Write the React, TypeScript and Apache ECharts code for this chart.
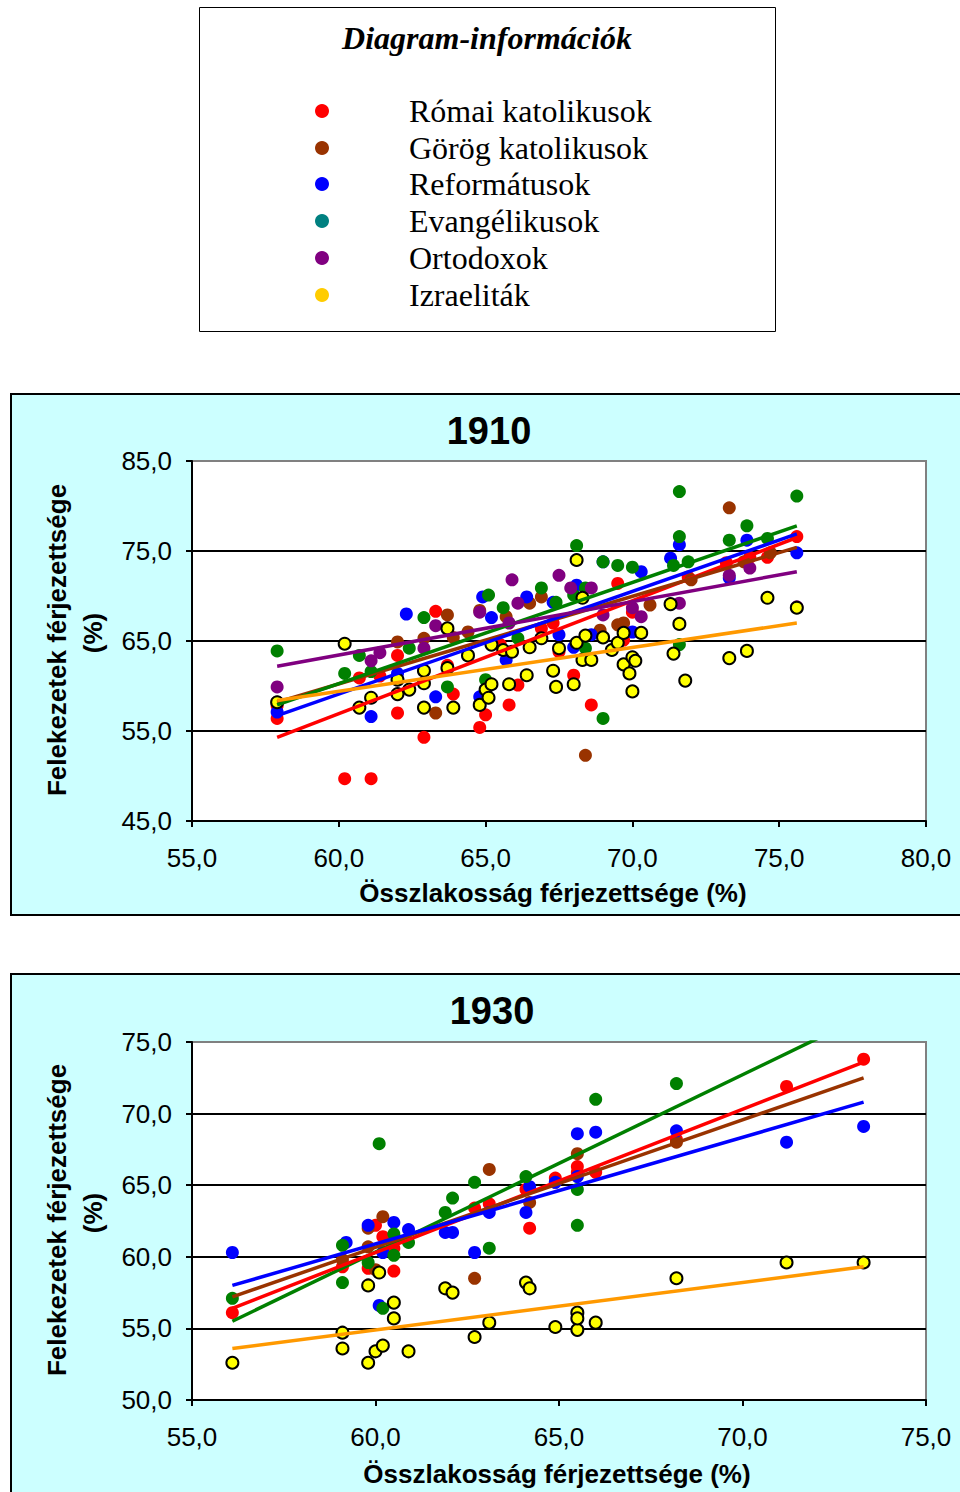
import React, { useEffect, useRef } from 'react';
import * as echarts from 'echarts';

const seriesNames = ['Római katolikusok', 'Görög katolikusok', 'Reformátusok', 'Evangélikusok', 'Ortodoxok', 'Izraeliták'];
const legendColors = ['#FF0000', '#993300', '#0000FF', '#008080', '#800080', '#FFCC00'];
const pointColors = ['#FF0000', '#993300', '#0000FF', '#008000', '#800080', '#FFFF00'];
const trendColors = ['#FF0000', '#993300', '#0000FF', '#008000', '#800080', '#FF9900'];

const x1910Ticks = [55, 60, 65, 70, 75, 80];
const y1910Ticks = [45, 55, 65, 75, 85];
const x1930Ticks = [55, 60, 65, 70, 75];
const y1930Ticks = [50, 55, 60, 65, 70, 75];

// 1910 scatter values [összlakosság %, felekezet %]
const rk1910 = [[57.9,56.4],[57.9,57.8],[60.2,49.7],[61.1,49.7],[60.7,60.9],[61.4,61.1],[62.0,57.0],[62.0,63.4],[62.9,54.3],[63.3,68.3],[63.7,62.3],[63.9,59.1],[64.8,55.4],[65.0,56.8],[65.5,64.6],[65.8,57.9],[66.1,60.1],[66.9,66.4],[67.3,67.0],[67.5,63.8],[68.0,61.2],[68.6,57.9],[69.5,71.4],[69.7,65.1],[70.0,68.2],[71.9,72.1],[73.2,73.7],[74.0,74.3],[74.6,74.3],[75.6,76.6]];
const gk1910 = [[57.9,58.2],[62.0,64.9],[62.9,65.3],[63.3,57.0],[63.7,67.9],[63.9,65.4],[64.4,66.0],[64.8,68.4],[65.7,67.7],[66.5,69.2],[66.9,69.9],[68.4,52.3],[68.9,66.2],[69.5,66.8],[69.7,67.0],[70.6,69.0],[72.0,71.8],[73.3,79.8],[73.8,73.8],[74.7,74.8]];
const ref1910 = [[57.9,57.1],[61.1,56.6],[62.0,61.4],[62.3,68.0],[63.3,58.8],[64.8,58.8],[64.9,69.9],[65.2,67.6],[65.7,62.9],[66.4,69.9],[67.3,69.3],[67.5,65.7],[68.0,64.3],[68.1,71.2],[68.6,65.7],[69.0,73.8],[70.0,66.0],[70.3,72.7],[71.3,74.2],[71.6,75.7],[73.3,72.0],[73.9,76.2],[75.6,74.8]];
const ev1910 = [[57.9,63.9],[60.2,61.4],[60.7,63.4],[61.1,61.6],[62.4,64.2],[62.9,67.6],[63.7,59.9],[65.0,60.7],[65.1,70.1],[65.6,68.7],[66.1,65.3],[66.9,70.9],[67.4,69.3],[68.0,70.1],[68.1,75.6],[68.4,64.2],[68.4,70.9],[69.0,73.8],[69.0,56.4],[69.5,73.4],[70.0,73.2],[71.4,73.4],[71.6,81.6],[71.6,64.6],[71.6,76.6],[71.9,73.8],[73.3,76.2],[73.9,77.8],[74.6,76.4],[75.6,81.1]];
const ort1910 = [[57.9,59.9],[61.1,62.8],[61.4,63.7],[62.9,64.2],[63.3,66.7],[64.8,68.2],[65.8,67.0],[65.9,71.8],[66.1,69.2],[67.5,72.3],[67.9,70.9],[68.6,70.9],[69.0,67.9],[70.0,68.7],[70.3,67.7],[71.6,69.2],[73.3,72.3],[74.0,73.1],[75.6,68.8]];
const izr1910 = [[57.9,58.2],[60.2,64.7],[60.7,57.6],[61.1,58.7],[62.0,60.7],[62.0,59.1],[62.4,59.6],[62.9,61.7],[62.9,60.3],[62.9,57.6],[63.7,62.0],[63.7,66.4],[63.9,57.6],[64.4,63.4],[64.8,57.9],[65.0,59.6],[65.1,58.7],[65.2,60.2],[65.2,64.6],[65.6,64.0],[65.8,60.2],[65.9,63.8],[66.4,61.2],[66.5,64.3],[66.9,65.3],[67.3,61.7],[67.4,59.9],[67.5,64.2],[68.0,60.2],[68.1,74.0],[68.1,64.8],[68.3,69.8],[68.3,62.9],[68.4,65.6],[68.6,62.9],[69.0,65.4],[69.3,64.0],[69.5,64.8],[69.7,62.4],[69.7,65.9],[69.9,61.4],[70.0,63.2],[70.0,59.4],[70.1,62.8],[70.3,65.9],[71.3,69.1],[71.4,63.6],[71.6,66.9],[71.8,60.6],[73.3,63.1],[73.9,63.9],[74.6,69.8],[75.6,68.7]];

// 1910 linear trend end points
const rkTrend1910 = [[57.9,54.3],[75.6,76.5]];
const gkTrend1910 = [[57.9,58.2],[75.6,75.4]];
const refTrend1910 = [[57.9,56.7],[75.6,76.9]];
const evTrend1910 = [[57.9,57.9],[75.6,77.8]];
const ortTrend1910 = [[57.9,62.2],[75.6,72.7]];
const izrTrend1910 = [[57.9,58.4],[75.6,67.0]];

// 1930 scatter values
const rk1930 = [[56.1,56.1],[59.1,59.3],[59.8,59.2],[60.0,62.2],[60.2,61.4],[60.5,60.6],[60.5,59.0],[62.7,63.4],[63.1,63.7],[64.1,64.7],[64.2,62.0],[64.9,65.5],[65.5,66.3],[65.5,65.9],[66.0,65.9],[68.2,68.2],[71.2,71.9],[73.3,73.8]];
const gk1930 = [[59.1,59.8],[59.8,62.0],[59.8,60.7],[60.0,59.1],[60.2,62.8],[62.7,58.5],[63.1,66.1],[64.2,63.8],[64.9,65.2],[65.5,67.2],[68.2,68.0]];
const ref1930 = [[56.1,60.3],[59.2,61.0],[59.8,62.2],[60.2,60.3],[60.1,56.6],[60.5,62.4],[60.9,61.9],[61.9,61.7],[62.1,61.7],[62.7,60.3],[63.1,63.1],[64.1,63.1],[64.2,64.9],[64.9,65.2],[65.5,68.6],[65.5,65.6],[66.0,68.7],[68.2,68.8],[71.2,68.0],[73.3,69.1]];
const ev1930 = [[56.1,57.1],[59.1,58.2],[59.1,60.8],[59.8,59.6],[60.1,67.9],[60.2,56.4],[60.5,61.6],[60.5,60.1],[60.9,61.0],[61.9,63.1],[62.1,64.1],[62.7,65.2],[63.1,60.6],[64.1,65.6],[65.5,64.7],[65.5,62.2],[66.0,71.0],[68.2,72.1]];
const izr1930 = [[56.1,52.6],[59.1,53.6],[59.1,54.7],[59.8,52.6],[59.8,58.0],[60.0,53.4],[60.1,58.9],[60.2,53.8],[60.5,56.8],[60.5,55.7],[60.9,53.4],[61.9,57.8],[62.1,57.5],[62.7,54.4],[63.1,55.4],[64.1,58.2],[64.2,57.8],[64.9,55.1],[65.5,54.9],[65.5,56.1],[65.5,55.7],[66.0,55.4],[68.2,58.5],[71.2,59.6],[73.3,59.6]];

// 1930 linear trend end points
const rkTrend1930 = [[56.1,56.4],[73.3,73.6]];
const gkTrend1930 = [[56.1,57.2],[73.3,72.5]];
const refTrend1930 = [[56.1,58.0],[73.3,70.8]];
const evTrend1930 = [[56.1,55.5],[73.3,76.8]];
const izrTrend1930 = [[56.1,53.6],[73.3,59.3]];

const SANS = '"Liberation Sans", Arial, sans-serif';
const SERIF = '"Liberation Serif", "Times New Roman", serif';
const fmt = (v: number) => v.toFixed(1).replace('.', ',');

function scatter(idx: number, data: number[][], grid: number) {
  const isYellow = idx === 5;
  return {
    type: 'scatter',
    name: seriesNames[idx],
    xAxisIndex: grid,
    yAxisIndex: grid,
    data,
    symbol: 'circle',
    symbolSize: isYellow ? 12 : 13,
    z: 2,
    itemStyle: {
      color: pointColors[idx],
      opacity: 1,
      borderColor: isYellow ? '#000' : pointColors[idx],
      borderWidth: isYellow ? 2 : 0,
    },
  };
}

function trend(idx: number, data: number[][], grid: number) {
  return {
    type: 'line',
    name: seriesNames[idx] + ' trend',
    xAxisIndex: grid,
    yAxisIndex: grid,
    data,
    showSymbol: false,
    symbol: 'none',
    clip: true,
    z: 3,
    lineStyle: { color: trendColors[idx], width: 3.5 },
  };
}

function xAxis(grid: number, ticks: number[]) {
  return {
    type: 'value',
    gridIndex: grid,
    min: ticks[0],
    max: ticks[ticks.length - 1],
    interval: ticks[1] - ticks[0],
    axisLine: { show: true, onZero: false, lineStyle: { color: '#000', width: 2 } },
    axisTick: { show: true, inside: false, length: 6, lineStyle: { color: '#000', width: 2 } },
    axisLabel: { formatter: fmt, color: '#000', fontSize: 26, fontFamily: SANS, margin: 24 },
    splitLine: { show: false },
  };
}

function yAxis(grid: number, ticks: number[]) {
  return {
    type: 'value',
    gridIndex: grid,
    min: ticks[0],
    max: ticks[ticks.length - 1],
    axisLine: { show: true, onZero: false, lineStyle: { color: '#000', width: 2 } },
    axisTick: { show: true, inside: false, length: 6, customValues: ticks, lineStyle: { color: '#000', width: 2 } },
    axisLabel: { formatter: fmt, customValues: ticks, color: '#000', fontSize: 26, fontFamily: SANS, margin: 20 },
    splitLine: { show: true, showMinLine: false, showMaxLine: false, lineStyle: { color: '#000', width: 2 } },
  };
}

const legendRows = [111, 148, 184, 221, 258, 295];

function buildGraphic() {
  const g: any[] = [];
  g.push({ type: 'rect', z: -10, shape: { x: 199.5, y: 7.5, width: 576, height: 324 }, style: { fill: '#fff', stroke: '#000', lineWidth: 1 } });
  g.push({ type: 'text', x: 487, y: 38, style: { text: 'Diagram-információk', font: `italic bold 32px ${SERIF}`, fill: '#000', align: 'center', verticalAlign: 'middle', textAlign: 'center', textVerticalAlign: 'middle' } });
  seriesNames.forEach((n, i) => {
    g.push({ type: 'circle', shape: { cx: 322, cy: legendRows[i], r: 7 }, style: { fill: legendColors[i] } });
    g.push({ type: 'text', x: 409, y: legendRows[i], style: { text: n, font: `32px ${SERIF}`, fill: '#000', align: 'left', verticalAlign: 'middle', textAlign: 'left', textVerticalAlign: 'middle' } });
  });
  g.push({ type: 'rect', z: -10, shape: { x: 11, y: 394, width: 960, height: 521 }, style: { fill: '#CCFFFF', stroke: '#000', lineWidth: 2 } });
  g.push({ type: 'rect', z: -10, shape: { x: 11, y: 974, width: 960, height: 530 }, style: { fill: '#CCFFFF', stroke: '#000', lineWidth: 2 } });
  const titles: [string, number, number][] = [['1910', 489, 431], ['1930', 492, 1011]];
  titles.forEach(([t, x, y]) => g.push({ type: 'text', x, y, style: { text: t, font: `bold 38px ${SANS}`, fill: '#000', align: 'center', verticalAlign: 'middle', textAlign: 'center', textVerticalAlign: 'middle' } }));
  const xNames: [number, number][] = [[553, 893], [557, 1474]];
  xNames.forEach(([x, y]) => g.push({ type: 'text', x, y, style: { text: 'Összlakosság férjezettsége (%)', font: `bold 26px ${SANS}`, fill: '#000', align: 'center', verticalAlign: 'middle', textAlign: 'center', textVerticalAlign: 'middle' } }));
  const yNames: [number, number][] = [[640, 633], [1220, 1213]];
  yNames.forEach(([c1, c2]) => {
    g.push({ type: 'text', x: 57, y: c1, rotation: Math.PI / 2, style: { text: 'Felekezetek férjezettsége', font: `bold 26px ${SANS}`, fill: '#000', align: 'center', verticalAlign: 'middle', textAlign: 'center', textVerticalAlign: 'middle' } });
    g.push({ type: 'text', x: 93, y: c2, rotation: Math.PI / 2, style: { text: '(%)', font: `bold 26px ${SANS}`, fill: '#000', align: 'center', verticalAlign: 'middle', textAlign: 'center', textVerticalAlign: 'middle' } });
  });
  return g;
}

export default function App() {
  const ref = useRef<HTMLDivElement>(null);
  useEffect(() => {
    if (!ref.current) return;
    const chart = echarts.init(ref.current, undefined, { renderer: 'svg', width: 960, height: 1492 });
    const gridBase = { show: true, backgroundColor: '#fff', borderColor: '#808080', borderWidth: 2, containLabel: false };
    chart.setOption({
      animation: false,
      backgroundColor: '#fff',
      graphic: { elements: buildGraphic() },
      grid: [
        { ...gridBase, left: 192, top: 461, width: 734, height: 360 },
        { ...gridBase, left: 192, top: 1042, width: 734, height: 358 },
      ],
      xAxis: [xAxis(0, x1910Ticks), xAxis(1, x1930Ticks)],
      yAxis: [yAxis(0, y1910Ticks), { ...yAxis(1, y1930Ticks), interval: 5 }],
      series: [
        scatter(0, rk1910, 0), scatter(1, gk1910, 0), scatter(2, ref1910, 0), scatter(3, ev1910, 0), scatter(4, ort1910, 0), scatter(5, izr1910, 0),
        trend(0, rkTrend1910, 0), trend(1, gkTrend1910, 0), trend(2, refTrend1910, 0), trend(3, evTrend1910, 0), trend(4, ortTrend1910, 0), trend(5, izrTrend1910, 0),
        scatter(0, rk1930, 1), scatter(1, gk1930, 1), scatter(2, ref1930, 1), scatter(3, ev1930, 1), scatter(5, izr1930, 1),
        trend(3, evTrend1930, 1), trend(0, rkTrend1930, 1), trend(1, gkTrend1930, 1), trend(2, refTrend1930, 1), trend(5, izrTrend1930, 1),
      ],
    });
    return () => chart.dispose();
  }, []);
  return <div ref={ref} style={{ position: 'absolute', left: 0, top: 0, width: 960, height: 1492 }} />;
}
